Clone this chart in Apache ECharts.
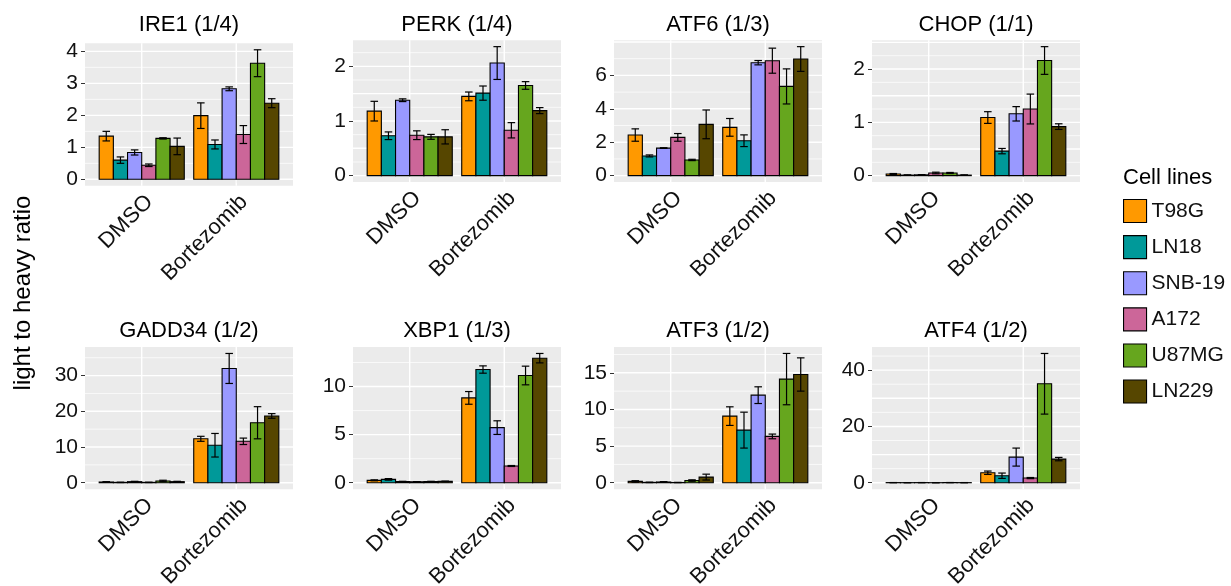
<!DOCTYPE html>
<html><head><meta charset="utf-8">
<script src="https://cdn.jsdelivr.net/npm/echarts@6/dist/echarts.min.js"></script>
<style>html,body{margin:0;padding:0;background:#fff}#c{width:1231px;height:586px}</style>
</head><body><div id="c"></div>
<script>
// ---------- data ----------
const conditions = ['DMSO', 'Bortezomib'];
const cellLines = ['T98G', 'LN18', 'SNB-19', 'A172', 'U87MG', 'LN229'];
const panelTitles = ['IRE1 (1/4)', 'PERK (1/4)', 'ATF6 (1/3)', 'CHOP (1/1)',
                     'GADD34 (1/2)', 'XBP1 (1/3)', 'ATF3 (1/2)', 'ATF4 (1/2)'];
const yTitle = 'light to heavy ratio';
const legendTitle = 'Cell lines';

// means: [DMSO row, Bortezomib row], order = cellLines
const ire1Mean = [[1.35, 0.60, 0.84, 0.44, 1.28, 1.03], [1.99, 1.09, 2.83, 1.40, 3.63, 2.38]];
const ire1Sd   = [[0.15, 0.10, 0.08, 0.04, 0.02, 0.26], [0.40, 0.14, 0.06, 0.28, 0.42, 0.14]];
const perkMean = [[1.18, 0.73, 1.38, 0.74, 0.71, 0.71], [1.45, 1.51, 2.06, 0.83, 1.65, 1.19]];
const perkSd   = [[0.18, 0.07, 0.025, 0.08, 0.045, 0.13], [0.08, 0.13, 0.30, 0.14, 0.07, 0.055]];
const atf6Mean = [[2.43, 1.18, 1.65, 2.29, 0.94, 3.07], [2.89, 2.09, 6.76, 6.88, 5.34, 6.98]];
const atf6Sd   = [[0.37, 0.06, 0.02, 0.23, 0.04, 0.86], [0.53, 0.35, 0.13, 0.75, 1.05, 0.74]];
const chopMean = [[0.03, 0.01, 0.015, 0.05, 0.05, 0.01], [1.09, 0.46, 1.16, 1.25, 2.16, 0.92]];
const chopSd   = [[0.01, 0.005, 0.005, 0.015, 0.01, 0.005], [0.11, 0.05, 0.135, 0.28, 0.26, 0.053]];
const gadd34Mean = [[0.2, 0.1, 0.3, 0.1, 0.5, 0.3], [12.3, 10.5, 32.0, 11.6, 16.8, 18.7]];
const gadd34Sd   = [[0.1, 0.05, 0.1, 0.05, 0.2, 0.1], [0.7, 3.3, 4.2, 0.9, 4.5, 0.65]];
const xbp1Mean = [[0.25, 0.35, 0.12, 0.10, 0.12, 0.14], [8.82, 11.77, 5.73, 1.74, 11.15, 12.95]];
const xbp1Sd   = [[0.05, 0.08, 0.03, 0.02, 0.03, 0.03], [0.66, 0.38, 0.71, 0.05, 0.97, 0.49]];
const atf3Mean = [[0.18, 0.05, 0.10, 0.03, 0.30, 0.77], [9.09, 7.18, 11.95, 6.32, 14.14, 14.77]];
const atf3Sd   = [[0.10, 0.03, 0.05, 0.02, 0.10, 0.40], [1.27, 2.45, 1.14, 0.32, 3.50, 2.27]];
const atf4Mean = [[0.05, 0.03, 0.05, 0.02, 0.06, 0.04], [3.55, 2.49, 9.11, 1.66, 35.15, 8.40]];
const atf4Sd   = [[0.02, 0.01, 0.02, 0.01, 0.02, 0.02], [0.60, 0.95, 3.20, 0.20, 10.77, 0.60]];

// tick labels per panel
const ire1Ticks = [0, 1, 2, 3, 4];
const perkTicks = [0, 1, 2];
const atf6Ticks = [0, 2, 4, 6];
const chopTicks = [0, 1, 2];
const gadd34Ticks = [0, 10, 20, 30];
const xbp1Ticks = [0, 5, 10];
const atf3Ticks = [0, 5, 10, 15];
const atf4Ticks = [0, 20, 40];

// ---------- styling / layout ----------
const colors = ['#FF9900', '#009999', '#9999FF', '#CC6699', '#66A61E', '#564600'];
const FONT = '"Liberation Sans", Arial, Helvetica, sans-serif';
const gridSteps = [1, 0.5, 2, 0.5, 10, 5, 5, 10];
const lefts = [85, 353, 614, 872];
const PW = 208;
const gridBoxes = [
  [lefts[0], 43.3, PW, 142.5], [lefts[1], 40.2, PW, 141.9], [lefts[2], 40.2, PW, 141.9], [lefts[3], 40.2, PW, 141.9],
  [lefts[0], 347, PW, 142.2], [lefts[1], 347, PW, 142.2], [lefts[2], 347, PW, 142.2], [lefts[3], 347, PW, 142.2]
];
const titleY = [25, 25, 25, 25, 331, 331, 331, 331];
const BW = 0.15, CAP = 0.08;

const means = [ire1Mean, perkMean, atf6Mean, chopMean, gadd34Mean, xbp1Mean, atf3Mean, atf4Mean];
const sds = [ire1Sd, perkSd, atf6Sd, chopSd, gadd34Sd, xbp1Sd, atf3Sd, atf4Sd];
const ticks = [ire1Ticks, perkTicks, atf6Ticks, chopTicks, gadd34Ticks, xbp1Ticks, atf3Ticks, atf4Ticks];

function renderBar(params, api) {
  const cat = api.value(0), v = api.value(1), e = api.value(2), k = api.value(3);
  const xc = cat + (k - 2.5) * BW;
  const a = api.coord([xc - BW / 2, v]);
  const b = api.coord([xc + BW / 2, 0]);
  const t = api.coord([xc, v + e]);
  const bo = api.coord([xc, v - e]);
  const cl = api.coord([xc - CAP / 2, v])[0], cr = api.coord([xc + CAP / 2, v])[0];
  const ls = { stroke: '#000', lineWidth: 1.2 };
  return {
    type: 'group',
    children: [
      { type: 'rect', shape: { x: a[0], y: a[1], width: b[0] - a[0], height: b[1] - a[1] },
        style: { fill: api.visual('color'), stroke: '#000', lineWidth: 1.1 } },
      { type: 'line', shape: { x1: t[0], y1: t[1], x2: bo[0], y2: bo[1] }, style: ls },
      { type: 'line', shape: { x1: cl, y1: t[1], x2: cr, y2: t[1] }, style: ls },
      { type: 'line', shape: { x1: cl, y1: bo[1], x2: cr, y2: bo[1] }, style: ls }
    ]
  };
}

function renderGridLine(params, api) {
  const cs = params.coordSys;
  const x = api.value(0), y = api.value(1), kind = api.value(2);
  if (kind === 2) {
    const px = api.coord([x, 0])[0];
    return { type: 'line', shape: { x1: px, y1: cs.y, x2: px, y2: cs.y + cs.height },
             style: { stroke: '#fff', lineWidth: 1.4 } };
  }
  const py = api.coord([1, y])[1];
  return { type: 'line', shape: { x1: cs.x, y1: py, x2: cs.x + cs.width, y2: py },
           style: { stroke: '#fff', lineWidth: kind === 0 ? 1.4 : 0.7 } };
}

const grid = [], xAxis = [], yAxis = [], series = [], graphic = [];
for (let p = 0; p < 8; p++) {
  const m = means[p], s = sds[p];
  let top = 0;
  for (let c = 0; c < 2; c++) for (let k = 0; k < 6; k++) top = Math.max(top, m[c][k] + s[c][k]);
  const ymin = -0.05 * top, ymax = 1.05 * top;
  const box = gridBoxes[p];
  grid.push({ left: box[0], top: box[1], width: box[2], height: box[3], show: true,
              backgroundColor: '#EBEBEB', borderWidth: 0, containLabel: false, outerBoundsMode: 'none' });
  xAxis.push({
    type: 'value', gridIndex: p, min: 0.4, max: 2.6,
    axisLine: { show: false }, splitLine: { show: false },
    axisTick: { show: true, customValues: [1, 2], length: 4, lineStyle: { color: '#333', width: 1 } },
    axisLabel: { customValues: [1, 2], rotate: 45, margin: 5, fontSize: 22, color: '#111', fontFamily: FONT,
                 align: 'right', verticalAlign: 'top', hideOverlap: false,
                 formatter: v => conditions[Math.round(v) - 1] }
  });
  yAxis.push({
    type: 'value', gridIndex: p, min: ymin, max: ymax,
    axisLine: { show: false }, splitLine: { show: false },
    axisTick: { show: true, customValues: ticks[p], length: 4, lineStyle: { color: '#333', width: 1 } },
    axisLabel: { customValues: ticks[p], margin: 7, fontSize: 21, color: '#111', fontFamily: FONT }
  });
  // gridlines
  const step = gridSteps[p];
  const gl = [];
  for (let i = Math.ceil(ymin / (step / 2)); i * step / 2 <= ymax; i++) {
    const v = i * step / 2;
    gl.push([1, v, i % 2 === 0 ? 0 : 1]);
  }
  gl.push([1, 0, 2], [2, 0, 2]);
  series.push({ type: 'custom', xAxisIndex: p, yAxisIndex: p, z: 1, silent: true,
                renderItem: renderGridLine, data: gl, tooltip: { show: false } });
  for (let k = 0; k < 6; k++) {
    series.push({
      type: 'custom', name: cellLines[k], xAxisIndex: p, yAxisIndex: p, z: 2,
      itemStyle: { color: colors[k] }, renderItem: renderBar,
      data: [[1, m[0][k], s[0][k], k], [2, m[1][k], s[1][k], k]]
    });
  }
  graphic.push({ type: 'text', x: box[0] + box[2] / 2, y: titleY[p],
                 style: { text: panelTitles[p], fontSize: 22, fontFamily: FONT, fill: '#000',
                          align: 'center', verticalAlign: 'middle' } });
}
graphic.push({ type: 'text', x: 23, y: 293, rotation: Math.PI / 2,
               style: { text: yTitle, fontSize: 24, fontFamily: FONT, fill: '#000',
                        align: 'center', verticalAlign: 'middle' } });
graphic.push({ type: 'text', x: 1123, y: 178,
               style: { text: legendTitle, fontSize: 22, fontFamily: FONT, fill: '#000',
                        align: 'left', verticalAlign: 'middle' } });

const chart = echarts.init(document.getElementById('c'), null, { renderer: 'canvas' });
chart.setOption({
  animation: false,
  backgroundColor: '#fff',
  grid, xAxis, yAxis, series, graphic,
  legend: {
    orient: 'vertical', left: 1123, top: 199, itemWidth: 23, itemHeight: 23, itemGap: 12,
    padding: 0, icon: 'rect', selectedMode: false,
    textStyle: { fontSize: 21, color: '#111', fontFamily: FONT },
    data: cellLines.map((n, i) => ({ name: n, itemStyle: { color: colors[i], borderColor: '#000', borderWidth: 1.1 } }))
  }
});
</script></body></html>
